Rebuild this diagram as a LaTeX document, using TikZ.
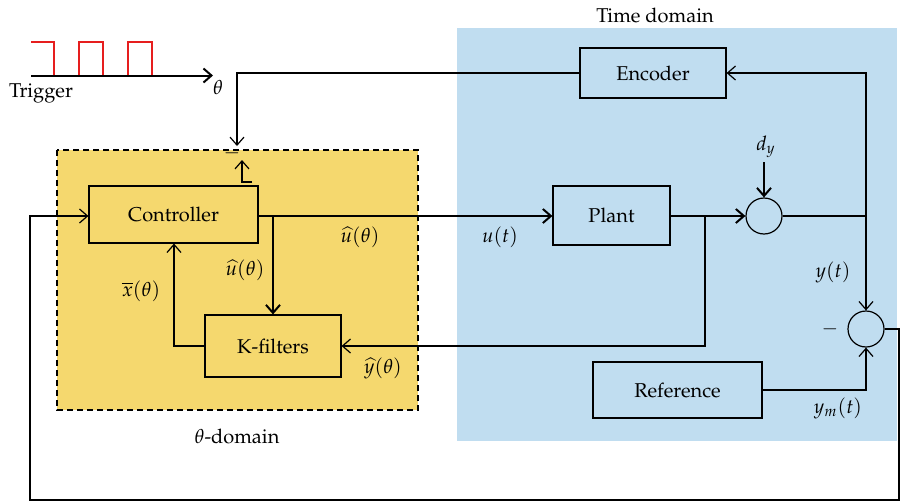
\documentclass[tikz,border=0pt]{standalone}
\usepackage[T1]{fontenc}
\usepackage{mathpazo}
\usetikzlibrary{arrows.meta}
\definecolor{yel}{RGB}{245,216,110}
\definecolor{blu}{RGB}{192,221,240}
\definecolor{trig}{RGB}{230,30,30}
\tikzset{
  blk/.style={draw, line width=0.6pt, inner sep=0pt},
  ln/.style={line width=0.6pt},
  thk/.style={line width=1pt},
  arr/.style={-{Straight Barb[length=4pt,width=7pt]}},
  sumc/.style={draw, circle, line width=0.6pt, minimum size=18pt, inner sep=0pt},
  lbl/.style={font=\normalsize}
}
\begin{document}
\begin{tikzpicture}[x=0.5pt,y=-0.5pt]
\useasboundingbox (0,0) rectangle (901,504);
% regions
\fill[blu] (457,28) rectangle (897,441);
\fill[yel] (57,150) rectangle (418,410);
\draw[dashed, line width=0.6pt, dash pattern=on 3pt off 2pt] (57,150) rectangle (418,410);
\node[lbl] (td) at (655,15) {Time domain};
\node[lbl] (thd) at (237,436) {$\theta$-domain};
% trigger
\draw[trig, line width=0.8pt] (31,42) -- (54,42) -- (54,76) -- (79,76) -- (79,42) -- (103,42) -- (103,76) -- (128,76) -- (128,42) -- (152,42) -- (152,76) -- (176,76);
\coordinate (ax0) at (31,75.5);
\coordinate (ax1) at (213,75.5);
\draw[thk, arr] (ax0) -- (ax1);
\node[lbl] (thl) at (218,87) {$\theta$};
\node[lbl] (trl) at (41,93) {Trigger};
% blocks
\node[blk, minimum width=73pt, minimum height=25pt] (enc) at (653,73) {Encoder};
\node[blk, minimum width=84.5pt, minimum height=28.5pt] (ctrl) at (173.5,214.5) {Controller};
\node[blk, minimum width=68pt, minimum height=31pt] (kf) at (273,346) {K-filters};
\node[blk, minimum width=58.5pt, minimum height=29.5pt] (plant) at (611.5,215.5) {Plant};
\node[blk, minimum width=84.5pt, minimum height=28pt] (ref) at (677.5,390) {Reference};
\node[sumc] (s1) at (764,216) {};
\node[sumc] (s2) at (866,329) {};
% coordinates
\coordinate (c1) at (237,73);
\coordinate (c1b) at (237,146);
\coordinate (br1) at (273,216);
\coordinate (br2) at (705,216);
\coordinate (br3) at (866,216);
% encoder -> theta domain
\draw[ln, arr] (enc.west) -- (c1) -- (c1b);
\node[lbl] (minus1) at (232,153) {$-$};
\coordinate (l1) at (252,182);
\coordinate (l2) at (242,182);
\coordinate (l3) at (242,160);
\draw[ln, arr] (l1) -- (l2) -- (l3);
% controller -> plant
\draw[thk, arr] (ctrl.east |- br1) -- (plant.west |- br1);
\draw[thk, arr] (br1) -- (kf.north -| br1);
\node[lbl] (uh1) at (360,237) {$\widehat{u}(\theta)$};
\node[lbl] (ut) at (500,237) {$u(t)$};
\node[lbl] (uh2) at (245,270) {$\widehat{u}(\theta)$};
% kfilters -> controller
\draw[ln, arr] (kf.west) -| (ctrl.south -| 174,0);
\node[lbl] (xb) at (141,291) {$\overline{x}(\theta)$};
% plant -> sum1
\draw[thk, arr] (plant.east |- br2) -- (s1.west);
\draw[ln, arr] (br2) |- (kf.east);
\node[lbl] (yh) at (383,368) {$\widehat{y}(\theta)$};
% disturbance
\node[lbl] (dy) at (766,147) {$d_y$};
\coordinate (dyt) at (764,162);
\draw[thk, arr] (dyt) -- (s1.north);
% sum1 -> right
\draw[thk] (s1.east) -- (br3);
\draw[ln, arr] (br3) |- (enc.east);
\draw[ln, arr] (br3) -- (s2.north);
\node[lbl] (yt) at (833,272) {$y(t)$};
\node[lbl] (minus2) at (830,329) {$-$};
% reference
\draw[ln, arr] (ref.east) -| (s2.south);
\node[lbl] (ym) at (838,408) {$y_m(t)$};
% outer feedback
\coordinate (o1) at (899,329);
\coordinate (o2) at (899,500);
\coordinate (o3) at (30,500);
\coordinate (o4) at (30,216);
\draw[ln, arr] (s2.east) -- (o1) -- (o2) -- (o3) -- (o4) -- (ctrl.west |- o4);
\end{tikzpicture}
\end{document}
